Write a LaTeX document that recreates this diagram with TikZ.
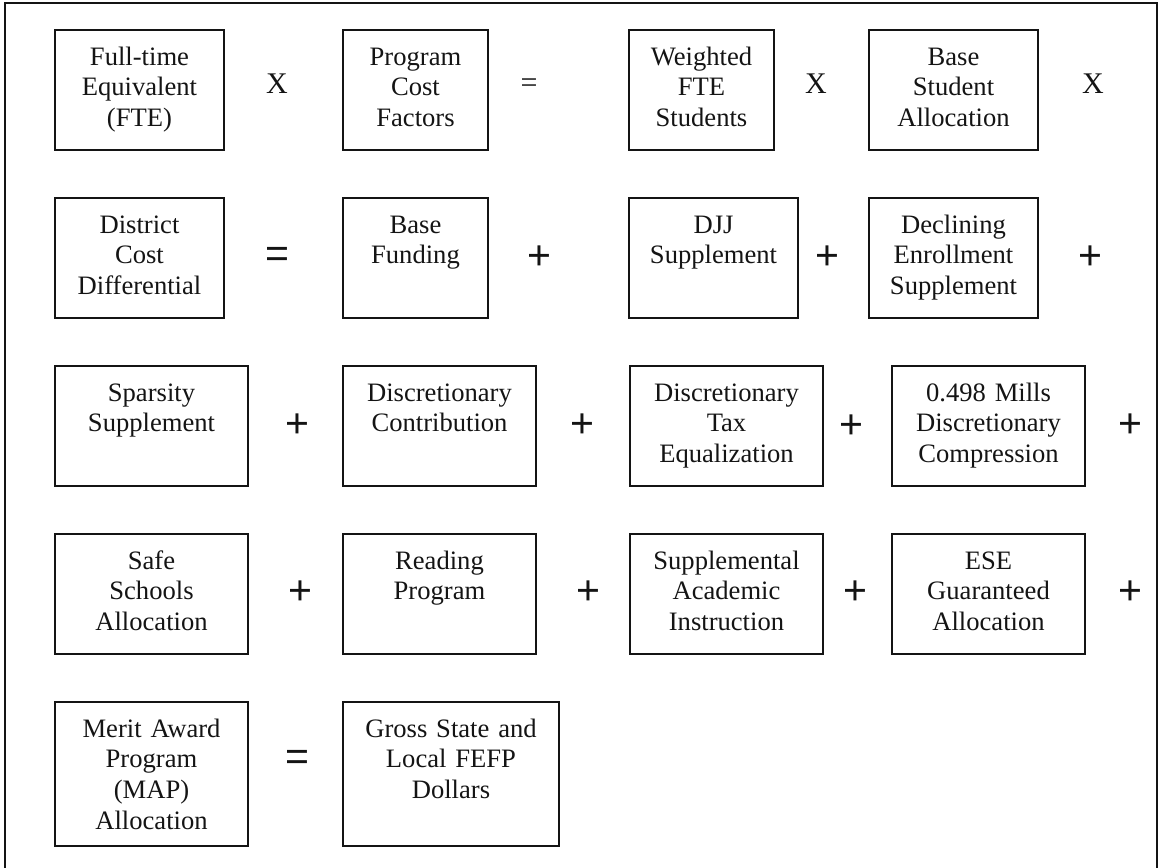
\documentclass[tikz,border=0pt]{standalone}
\usepackage{fontspec}
\setmainfont{Liberation Serif}
\newfontfamily\signfamily{Liberation Sans}
\definecolor{ink}{RGB}{20,20,20}
\newcommand\cellfont{\fontsize{13.3pt}{15.4pt}\selectfont}
\tikzset{
  cell/.style={draw=ink,line width=1pt,anchor=north west,inner sep=0pt,
    align=center,font=\cellfont,text=ink,text height=17.5pt,text depth=42.5pt},
  narrow/.style={cell,text width=84.5pt},
  slim/.style={cell,text width=72.5pt},
  wide/.style={cell,text width=96.5pt},
  tall/.style={text depth=54.5pt},
  sign/.style={inner sep=0pt,text=ink,font=\signfamily\fontsize{20.5pt}{22pt}\selectfont},
  times/.style={inner sep=0pt,text=ink,font=\fontsize{15pt}{17pt}\selectfont},
  frame/.style={draw=ink,line width=0.8pt},
}
\begin{document}
\begin{tikzpicture}[x=0.5pt,y=-0.5pt]
  \useasboundingbox (0,0) rectangle (1158,868);
  \draw[frame] (5,868) -- (5,3) -- (1157,3) -- (1157,868);
  % row 1
  \node[narrow] (fte) at (54,29) {Full-time\\Equivalent\\(FTE)};
  \node[times] (x1) at (277,84) {X};
  \node[slim] (pcf) at (342,29) {Program\\Cost\\Factors};
  \node[times] (eq1) at (529,86) {=};
  \node[slim] (wfte) at (628,29) {Weighted\\FTE\\Students};
  \node[times] (x2) at (816,84) {X};
  \node[narrow] (bsa) at (868,29) {Base\\Student\\Allocation};
  \node[times] (x3) at (1093,84) {X};
  % row 2
  \node[narrow] (dcd) at (54,197) {District\\Cost\\Differential};
  \node[sign] (eq2) at (277,257) {=};
  \node[slim] (bf) at (342,197) {Base\\Funding};
  \node[sign] (p21) at (539,258) {+};
  \node[narrow] (djj) at (628,197) {DJJ\\Supplement};
  \node[sign] (p22) at (827,258) {+};
  \node[narrow] (des) at (868,197) {Declining\\Enrollment\\Supplement};
  \node[sign] (p23) at (1090,258) {+};
  % row 3
  \node[wide] (spa) at (54,365) {Sparsity\\Supplement};
  \node[sign] (p31) at (297,426) {+};
  \node[wide] (dco) at (342,365) {Discretionary\\Contribution};
  \node[sign] (p32) at (582,426) {+};
  \node[wide] (dte) at (629,365) {Discretionary\\Tax\\Equalization};
  \node[sign] (p33) at (851,427) {+};
  \node[wide] (mil) at (891,365) {0.498 Mills\\Discretionary\\Compression};
  \node[sign] (p34) at (1130,426) {+};
  % row 4
  \node[wide] (ssa) at (54,533) {Safe\\Schools\\Allocation};
  \node[sign] (p41) at (300,593) {+};
  \node[wide] (rdp) at (342,533) {Reading\\Program};
  \node[sign] (p42) at (588,593) {+};
  \node[wide] (sai) at (629,533) {Supplemental\\Academic\\Instruction};
  \node[sign] (p43) at (855,593) {+};
  \node[wide] (ese) at (891,533) {ESE\\Guaranteed\\Allocation};
  \node[sign] (p44) at (1130,593) {+};
  % row 5
  \node[wide,tall] (map) at (54,701) {Merit Award\\Program\\(MAP)\\Allocation};
  \node[sign] (eq5) at (297,760) {=};
  \node[cell,text width=108pt,tall] (gross) at (342,701) {Gross State and\\Local FEFP\\Dollars};
\end{tikzpicture}
\end{document}
